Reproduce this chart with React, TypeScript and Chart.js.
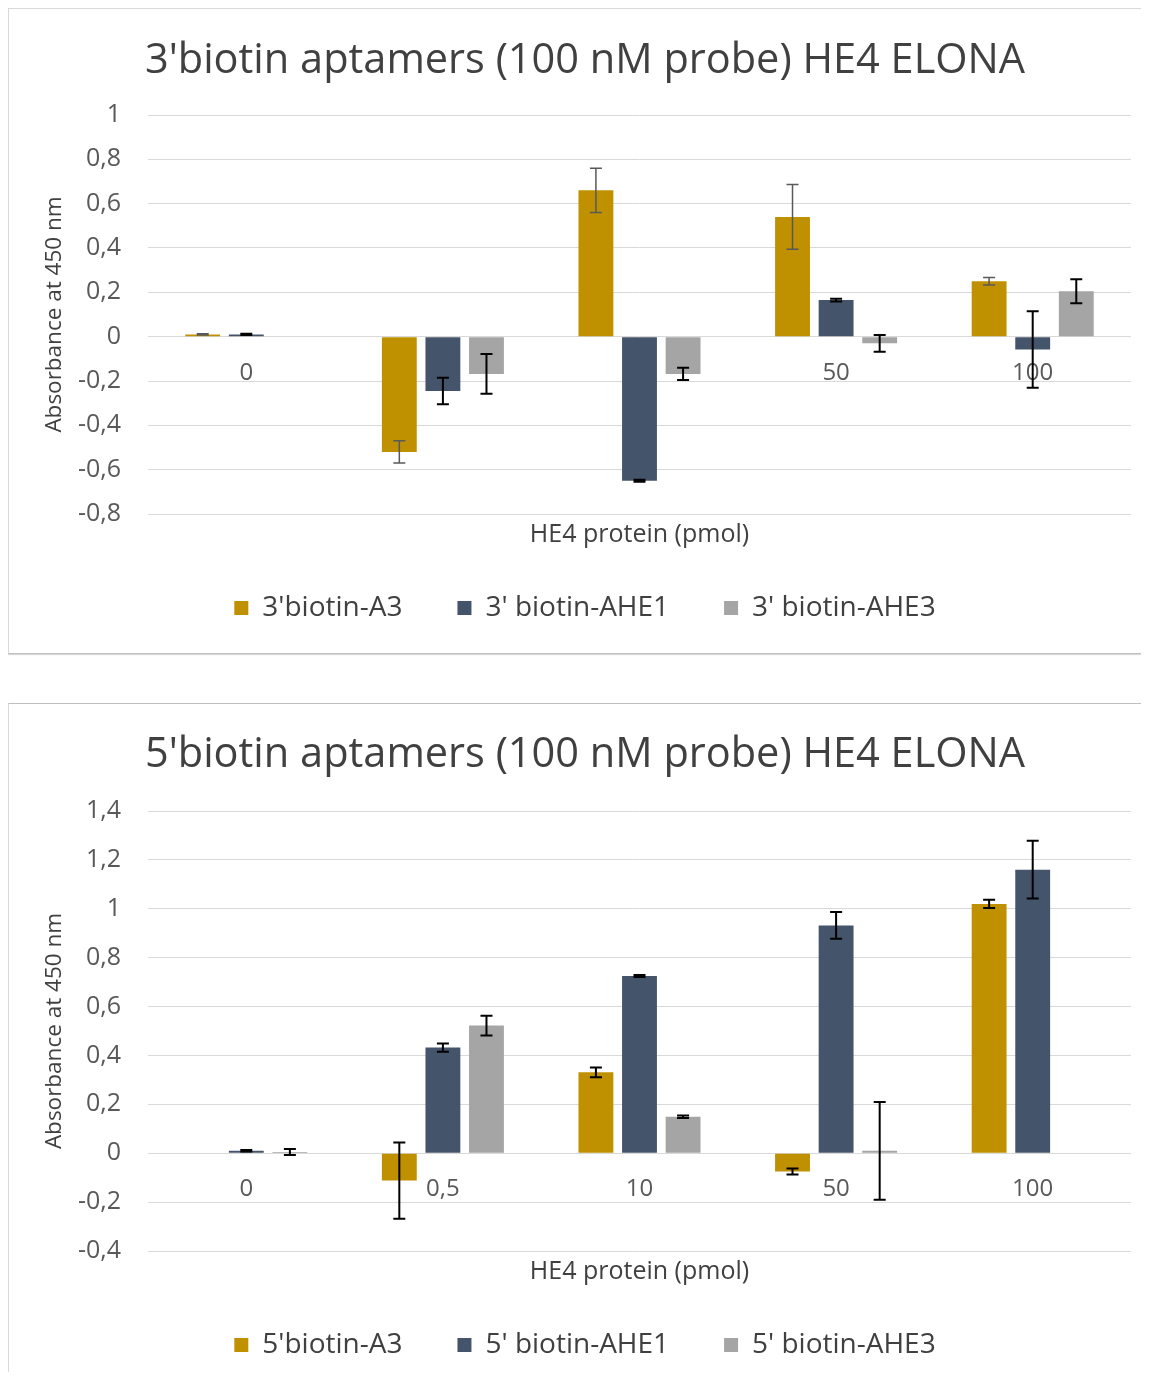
import React, { useEffect, useRef } from "react";
import { Chart, registerables } from "chart.js";

Chart.register(...registerables);

// ---------- data ----------
const categories = ["0", "0,5", "10", "50", "100"];

const topTitle = "3'biotin aptamers (100 nM probe) HE4 ELONA";
const topSeriesNames = ["3'biotin-A3", "3' biotin-AHE1", "3' biotin-AHE3"];
const topA3 = [0.01, -0.52, 0.66, 0.54, 0.25];
const topA3Err = [0.003, 0.05, 0.1, 0.146, 0.017];
const topAHE1 = [0.01, -0.245, -0.65, 0.165, -0.058];
const topAHE1Err = [0.003, 0.06, 0.005, 0.006, 0.173];
const topAHE3 = [0, -0.168, -0.168, -0.03, 0.205];
const topAHE3Err = [0, 0.09, 0.028, 0.038, 0.054];
const topTicks = [-0.8, -0.6, -0.4, -0.2, 0, 0.2, 0.4, 0.6, 0.8, 1];

const bottomTitle = "5'biotin aptamers (100 nM probe) HE4 ELONA";
const bottomSeriesNames = ["5'biotin-A3", "5' biotin-AHE1", "5' biotin-AHE3"];
const bottomA3 = [0, -0.112, 0.331, -0.075, 1.02];
const bottomA3Err = [0, 0.156, 0.02, 0.012, 0.017];
const bottomAHE1 = [0.01, 0.432, 0.725, 0.932, 1.16];
const bottomAHE1Err = [0.003, 0.017, 0.004, 0.055, 0.118];
const bottomAHE3 = [0.005, 0.522, 0.149, 0.01, 0];
const bottomAHE3Err = [0.012, 0.04, 0.005, 0.2, 0];
const bottomTicks = [-0.4, -0.2, 0, 0.2, 0.4, 0.6, 0.8, 1, 1.2, 1.4];

const xAxisTitle = "HE4 protein (pmol)";
const yAxisTitle = "Absorbance at 450 nm";

// ---------- styles ----------
const COLORS = ["#BF9000", "#44546A", "#A5A5A5"];
const FONT = "'Open Sans', Lato, 'DejaVu Sans', sans-serif";

const errorBarPlugin = {
  id: "errorBars",
  afterDatasetsDraw(chart: any) {
    const ctx = chart.ctx;
    const yScale = chart.scales.y;
    chart.data.datasets.forEach((ds: any, i: number) => {
      const meta = chart.getDatasetMeta(i);
      const errs: number[] = ds.errors || [];
      meta.data.forEach((bar: any, j: number) => {
        const e = errs[j];
        if (!e) return;
        const v = ds.data[j];
        const x = bar.x;
        const yTop = yScale.getPixelForValue(v + e);
        const yBot = yScale.getPixelForValue(v - e);
        const cap = 6;
        ctx.save();
        ctx.strokeStyle = ds.errorColor || "#000";
        ctx.lineWidth = ds.errorWidth || 2;
        ctx.beginPath();
        ctx.moveTo(x, yTop);
        ctx.lineTo(x, yBot);
        ctx.moveTo(x - cap, yTop);
        ctx.lineTo(x + cap, yTop);
        ctx.moveTo(x - cap, yBot);
        ctx.lineTo(x + cap, yBot);
        ctx.stroke();
        ctx.restore();
      });
    });
  },
};

type PanelProps = {
  title: string;
  names: string[];
  series: number[][];
  errors: number[][];
  errorColors: string[];
  errorWidths: number[];
  ticks: number[];
  height: number;
  titlePadTop: number;
  titlePadBottom: number;
  subTop: number;
  padBottom: number;
};

function ChartPanel(p: PanelProps) {
  const ref = useRef<HTMLCanvasElement | null>(null);
  useEffect(() => {
    if (!ref.current) return;
    const chart = new Chart(ref.current, {
      type: "bar",
      data: {
        labels: categories,
        datasets: p.series.map((s, i) => ({
          label: p.names[i],
          data: s,
          backgroundColor: COLORS[i],
          borderWidth: 0,
          categoryPercentage: 0.665,
          barPercentage: 0.8,
          errors: p.errors[i],
          errorColor: p.errorColors[i],
          errorWidth: p.errorWidths[i],
        })) as any,
      },
      options: {
        responsive: false,
        animation: false,
        devicePixelRatio: 1,
        layout: { padding: { left: 12, right: 0, top: 0, bottom: p.padBottom } },
        plugins: {
          tooltip: { enabled: false },
          title: {
            display: true,
            text: p.title,
            color: "#404040",
            font: { family: FONT, size: 41.5, weight: "normal", lineHeight: 1.2 },
            padding: { top: p.titlePadTop, bottom: p.titlePadBottom },
          },
          subtitle: {
            display: true,
            text: xAxisTitle,
            position: "bottom",
            fullSize: false,
            weight: 500,
            color: "#404040",
            font: { family: FONT, size: 25, weight: "normal", lineHeight: "8px" },
            padding: { top: p.subTop, bottom: 0 },
          } as any,
          legend: {
            display: true,
            position: "bottom",
            labels: {
              boxWidth: 14,
              boxHeight: 14,
              padding: 55,
              color: "#404040",
              font: { family: FONT, size: 28, weight: "normal" },
            },
          },
        },
        scales: {
          x: {
            type: "category",
            position: { y: 0 } as any,
            grid: { display: false, drawTicks: false },
            border: { display: false },
            ticks: {
              color: "#595959",
              padding: 22,
              font: { family: FONT, size: 24 },
              maxRotation: 0,
            },
          },
          y: {
            min: p.ticks[0],
            max: p.ticks[p.ticks.length - 1],
            afterBuildTicks: (scale: any) => {
              scale.ticks = p.ticks.map((v) => ({ value: v }));
            },
            afterFit: (scale: any) => {
              scale.width = 127;
            },
            grid: { color: "#d9d9d9", lineWidth: 1, drawTicks: false },
            border: { display: false },
            ticks: {
              color: "#595959",
              padding: 27,
              font: { family: FONT, size: 25 },
              callback: (v: any) =>
                String(Math.round(Number(v) * 10) / 10).replace(".", ","),
            },
            title: {
              display: true,
              text: yAxisTitle,
              color: "#404040",
              font: { family: FONT, size: 22.5, lineHeight: 1.2 },
              padding: { top: 20, bottom: 0 },
            },
          },
          yRight: {
            position: "right",
            display: true,
            grid: { display: false, drawTicks: false },
            border: { display: false },
            ticks: { display: false },
            afterFit: (scale: any) => {
              scale.width = 18;
            },
          },
        },
      } as any,
      plugins: [errorBarPlugin],
    });
    return () => chart.destroy();
  }, []);
  return (
    <canvas
      ref={ref}
      width={1140}
      height={p.height}
      style={{ display: "block", width: 1140, height: p.height }}
    />
  );
}

export default function App() {
  return (
    <div style={{ width: 1141, overflow: "hidden" }}>
      <div
        style={{
          borderTop: "1px solid #d9d9d9",
          borderLeft: "1px solid #d9d9d9",
          borderBottom: "1px solid #bfbfbf",
          boxShadow: "0 1px 1px #d9d9d9",
          background: "#fff",
        }}
      >
        <ChartPanel
          title={topTitle}
          names={topSeriesNames}
          series={[topA3, topAHE1, topAHE3]}
          errors={[topA3Err, topAHE1Err, topAHE3Err]}
          errorColors={["#595959", "#000000", "#000000"]}
          errorWidths={[1.5, 2, 2]}
          ticks={topTicks}
          height={644}
          titlePadTop={27}
          titlePadBottom={29.2}
          subTop={17}
          padBottom={21}
        />
      </div>
      <div
        style={{
          marginTop: 49,
          borderTop: "1px solid #bfbfbf",
          borderLeft: "1px solid #d9d9d9",
          background: "#fff",
        }}
      >
        <ChartPanel
          title={bottomTitle}
          names={bottomSeriesNames}
          series={[bottomA3, bottomAHE1, bottomAHE3]}
          errors={[bottomA3Err, bottomAHE1Err, bottomAHE3Err]}
          errorColors={["#000000", "#000000", "#000000"]}
          errorWidths={[2, 2, 2]}
          ticks={bottomTicks}
          height={668}
          titlePadTop={26}
          titlePadBottom={31.2}
          subTop={17}
          padBottom={3}
        />
      </div>
    </div>
  );
}
